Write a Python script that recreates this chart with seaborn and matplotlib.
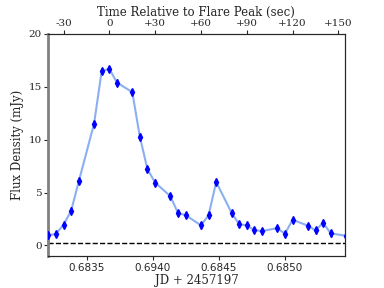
import numpy as np
import pandas as pd
import seaborn as sns
from matplotlib import pyplot as plt

sns.set_style('ticks')
plt.rcParams['font.family'] = ['DejaVu Serif']

# JD - 2457197 of each sample, flux in mJy
jd = [0.683207, 0.683265, 0.683323, 0.683381, 0.683439, 0.683554, 0.683612,
      0.683670, 0.683728, 0.683844, 0.683901, 0.683959, 0.684017, 0.684133,
      0.684191, 0.684249, 0.684364, 0.684422, 0.684480, 0.684596, 0.684654,
      0.684712, 0.684770, 0.684827, 0.684943, 0.685001, 0.685059, 0.685175,
      0.685233, 0.685290, 0.685348, 0.685464]
flux = [0.95, 1.1, 1.96, 3.3, 6.1, 11.5, 16.5, 16.7, 15.4, 14.5, 10.3, 7.2,
        5.95, 4.65, 3.05, 2.87, 1.9, 2.85, 6.0, 3.1, 2.0, 1.9, 1.45, 1.36,
        1.64, 1.1, 2.43, 1.87, 1.42, 2.15, 1.14, 0.92]
flux_err = [0.3] * len(flux)
noise_level = 0.2

peak_jd = 0.68367
rel_ticks = [-30, 0, 30, 60, 90, 120, 150]
rel_labels = ['-30', '0', '+30', '+60', '+90', '+120', '+150']
bottom_ticks = [0.6835, 0.6840, 0.6845, 0.6850]
bottom_labels = ['0.6835', '0.6940', '0.6845', '0.6850']

df = pd.DataFrame({'jd': jd, 'flux': flux, 'err': flux_err})

fig = plt.figure(figsize=(3.84, 2.88), dpi=100)
ax = fig.add_axes([0.125, 0.111, 0.773, 0.771])

sns.lineplot(data=df, x='jd', y='flux', ax=ax, color='cornflowerblue',
             alpha=0.75, lw=1.5, zorder=2)
ax.errorbar(df['jd'], df['flux'], yerr=df['err'], fmt='d', color='blue',
            ms=4, elinewidth=1, capsize=0, zorder=3)
ax.axhline(noise_level, color='black', ls='--', lw=1)

ax.set_xlim(0.683205, 0.685455)
ax.set_ylim(-1, 20)
ax.set_yticks([0, 5, 10, 15, 20])
ax.set_xticks(bottom_ticks)
ax.set_xticklabels(bottom_labels, family='DejaVu Sans', fontsize=7.5)
ax.tick_params(axis='y', labelsize=7.5, length=3, pad=1.5)
ax.tick_params(axis='x', length=3, pad=2)
ax.set_xlabel('JD + 2457197', fontsize=8.5, labelpad=1)
ax.set_ylabel('Flux Density (mJy)', fontsize=8.5, labelpad=3)
ax.spines['left'].set_color('gray')
ax.spines['left'].set_linewidth(2)

top = ax.twiny()
top.set_xlim(ax.get_xlim())
top.set_xticks([peak_jd + t / 86400 for t in rel_ticks])
top.set_xticklabels(rel_labels)
top.tick_params(labelsize=7.5, length=3, pad=1.5)
top.set_xlabel('Time Relative to Flare Peak (sec)', fontsize=8.5, labelpad=2)
top.spines['left'].set_visible(False)

fig.savefig('out.png', dpi=100)
